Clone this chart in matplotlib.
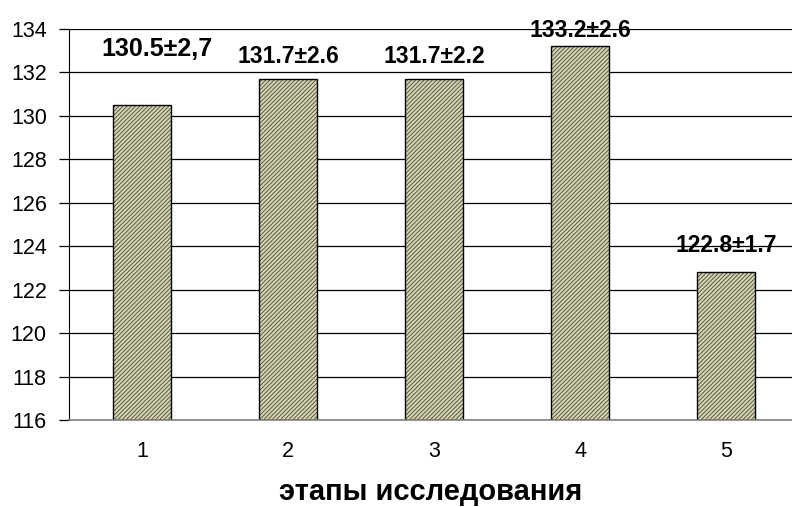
import matplotlib
matplotlib.use("Agg")
import matplotlib.pyplot as plt

plt.rcParams['font.family'] = ['Liberation Sans', 'DejaVu Sans']
plt.rcParams['hatch.linewidth'] = 0.6

# data
stages = [1, 2, 3, 4, 5]
values = [130.5, 131.7, 131.7, 133.2, 122.8]
labels = ["130.5±2,7", "131.7±2.6", "131.7±2.2", "133.2±2.6", "122.8±1.7"]
label_sizes = [18, 16.5, 16.5, 16.5, 16.5]
label_dy = [2.6, 1.05, 1.05, 0.75, 1.25]
label_dx = [0.1, 0, 0, 0, 0]
yticks = [116, 118, 120, 122, 124, 126, 128, 130, 132, 134]

fig = plt.figure(figsize=(7.92, 5.07), dpi=100)
ax = fig.add_axes([0.0871, 0.1716, 0.9129, 0.7712])

ax.set_axisbelow(True)
ax.grid(axis='y', color='black', linewidth=0.9)
base = yticks[0]
heights = [v - base for v in values]
ax.bar(stages, heights, bottom=base, width=0.4, color='#d4d2b4',
       edgecolor='#4a4a35', hatch='////////', linewidth=0)
ax.bar(stages, heights, bottom=base, width=0.4, fill=False,
       edgecolor='black', linewidth=1.0)

for x, v, t, s, dy, dx in zip(stages, values, labels, label_sizes, label_dy, label_dx):
    ax.text(x + dx, v + dy, t, ha='center', va='center', fontsize=s, fontweight='bold')

ax.set_xlim(0.5, 5.45)
ax.set_ylim(116, 134)
ax.set_yticks(yticks)
ax.set_xticks(stages)
ax.tick_params(axis='y', length=7, width=0.9, labelsize=15.5, pad=9, direction='out')
ax.tick_params(axis='x', length=0, labelsize=15.5, pad=15)
for side in ['top', 'right']:
    ax.spines[side].set_visible(False)
ax.spines['left'].set_color('black')
ax.spines['bottom'].set_color('#808080')
ax.spines['bottom'].set_linewidth(1.2)

ax.set_xlabel("этапы исследования", fontsize=21, fontweight='bold', labelpad=12)

fig.savefig("out.png", dpi=100)
